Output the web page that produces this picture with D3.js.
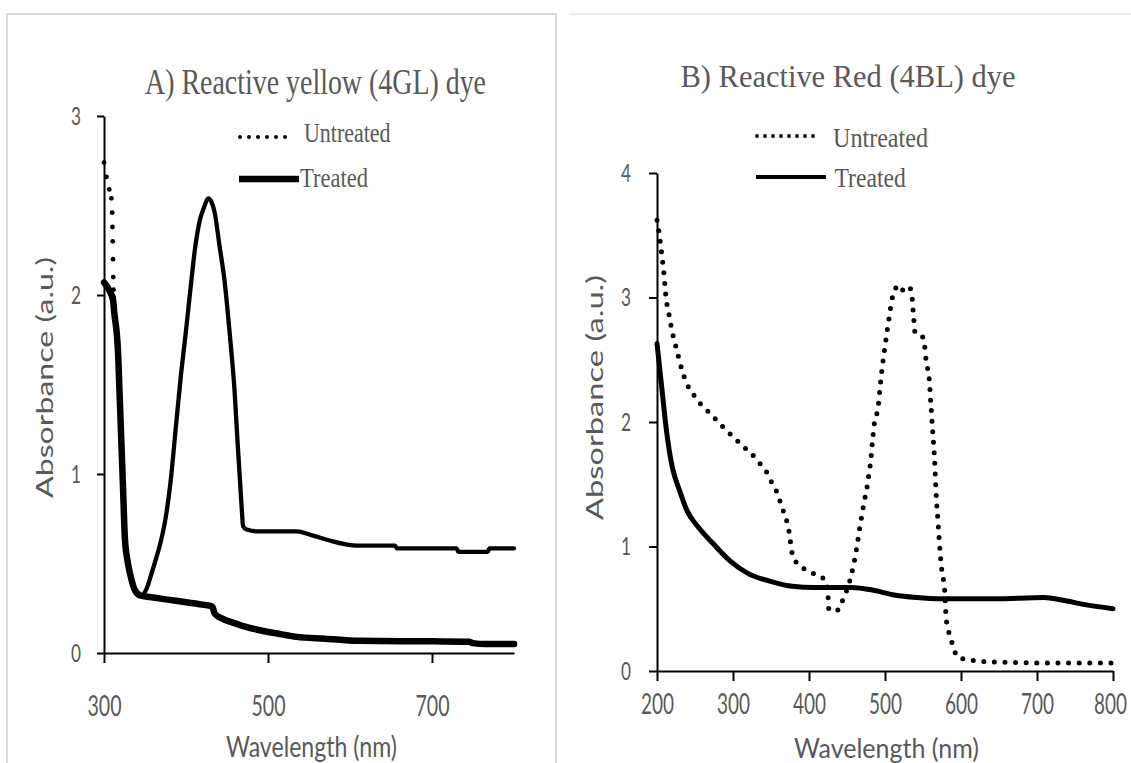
<!DOCTYPE html>
<html><head><meta charset="utf-8">
<script src="https://cdn.jsdelivr.net/npm/d3@7/dist/d3.min.js"></script>
<style>body{margin:0;background:#fff;} svg{display:block;}</style>
</head><body>
<svg id="c" width="1131" height="763"></svg>
<script>
// ---------------- DATA ----------------
const titleA = "A) Reactive yellow (4GL) dye";
const titleB = "B) Reactive Red (4BL) dye";
const seriesNames = ["Untreated", "Treated"];
const xTitle = "Wavelength (nm)";
const yTitle = "Absorbance (a.u.)";

const aXTicks = [300, 500, 700];
const aYTicks = [0, 1, 2, 3];
const bXTicks = [200, 300, 400, 500, 600, 700, 800];
const bYTicks = [0, 1, 2, 3, 4];

// Panel A – wavelength (nm), absorbance
const aUntreated = [[300,2.74],[303,2.66],[306.5,2.59],[309,2.54],[310,2.46],[310.3,2.38],[310.6,2.3],[311,2.2],[311.3,2.1],[311.7,2.03],[312,1.99],[313,1.88],[315.5,1.79],[317,1.69],[319,1.45],[321,1.2],[323,0.95],[325.5,0.64],[328.5,0.52],[331.7,0.445],[337.8,0.35],[345,0.32],[352,0.36],[358,0.445],[363,0.52],[368,0.6],[375,0.75],[381,0.95],[388,1.28],[394,1.56],[399,1.76],[403,1.93],[407,2.1],[411,2.26],[414,2.35],[417,2.42],[422,2.49],[427,2.54],[431,2.52],[435,2.46],[441,2.27],[447,2.08],[451,1.9],[455,1.7],[459,1.48],[463,1.17],[466,0.95],[468.5,0.77],[469.5,0.71],[474,0.69],[487,0.68],[535,0.68],[552,0.66],[574,0.63],[609,0.60],[637,0.60],[655,0.60],[657,0.585],[730,0.585],[732,0.565],[768,0.565],[770,0.585],[800,0.585]];
const aTreated = [[300,2.07],[306,2.03],[311,1.97],[313,1.88],[315.5,1.79],[317,1.69],[319,1.45],[321,1.2],[323,0.95],[325.5,0.64],[328.5,0.52],[331.7,0.445],[337.8,0.35],[345,0.32],[360,0.31],[390,0.29],[420,0.27],[432,0.26],[435,0.22],[445,0.19],[457,0.17],[470,0.15],[487,0.13],[510,0.11],[535,0.09],[570,0.08],[610,0.068],[700,0.065],[745,0.063],[750,0.055],[765,0.05],[800,0.05]];

// Panel B
const bUntreated = [[200,3.62],[202.5,3.53],[205,3.41],[207,3.31],[209,3.2],[212,2.99],[215.3,2.88],[221.6,2.68],[226,2.58],[230,2.48],[239,2.31],[247,2.23],[255,2.16],[263,2.11],[273,2.05],[282,1.99],[292,1.93],[302,1.87],[311,1.82],[321,1.76],[330,1.71],[337.5,1.65],[345,1.59],[352,1.5],[359,1.42],[364,1.32],[369,1.24],[373.5,1.13],[378,0.94],[385,0.86],[397,0.81],[407,0.78],[416.6,0.755],[423.8,0.70],[425.2,0.59],[426.2,0.49],[438,0.49],[444.4,0.57],[455,0.755],[462,0.96],[467,1.16],[473,1.37],[476.5,1.48],[479,1.59],[481.3,1.69],[482.7,1.79],[486,1.99],[491,2.12],[494,2.31],[498,2.52],[500.5,2.63],[503,2.74],[505.5,2.84],[509,2.98],[512,3.04],[517,3.10],[524,3.06],[530,3.09],[535,3.05],[536.5,2.93],[538,2.82],[539.5,2.72],[544,2.71],[550.7,2.67],[554.6,2.47],[558,2.36],[560.3,2.15],[562.7,1.93],[565,1.72],[567.5,1.40],[570,1.18],[572.3,0.97],[574.7,0.81],[578.5,0.65],[580.4,0.43],[583.3,0.33],[588,0.23],[596,0.11],[610,0.09],[647,0.072],[718,0.064],[800,0.064]];
const bTreated = [[200,2.63],[205.7,2.31],[212.9,1.91],[220,1.64],[229.7,1.45],[239.3,1.29],[253.7,1.16],[272.8,1.03],[296.8,0.88],[320.7,0.78],[349.5,0.72],[378,0.68],[407,0.67],[455,0.67],[483.7,0.65],[512.4,0.61],[541,0.59],[574.7,0.58],[646.6,0.58],[709,0.59],[733,0.57],[761.6,0.535],[800,0.50]];

// ---------------- DRAWING ----------------
const svg = d3.select("#c");
const GRAY = "#595959";
const SANS = "Lato, 'Open Sans', sans-serif";
const SERIF = "'Liberation Serif', 'DejaVu Serif', serif";

function txt(parent, x, y, s, o) {
  const t = parent.append("text").attr("x", x).attr("y", y).text(s)
    .attr("font-family", o.ff).attr("font-size", o.fs).attr("fill", o.fill || GRAY)
    .attr("text-anchor", o.anchor || "start");
  if (o.w) t.attr("textLength", o.w).attr("lengthAdjust", "spacingAndGlyphs");
  return t;
}

// frames
svg.append("rect").attr("x", 7).attr("y", 14).attr("width", 549).attr("height", 780)
  .attr("fill", "none").attr("stroke", "#d9d9d9").attr("stroke-width", 2);
svg.append("line").attr("x1", 569).attr("x2", 1131).attr("y1", 14).attr("y2", 14)
  .attr("stroke", "#e6e6e6").attr("stroke-width", 1.5);

function panel(cfg) {
  const g = svg.append("g");
  const x = d3.scaleLinear().domain(cfg.xDomain).range(cfg.xRange);
  const y = d3.scaleLinear().domain(cfg.yDomain).range(cfg.yRange);

  const xa = g.append("g").attr("transform", `translate(0,${cfg.yRange[0]})`)
    .call(d3.axisBottom(x).tickValues(cfg.xTicks).tickSizeInner(10).tickSizeOuter(0)
      .tickPadding(cfg.xPad).tickFormat(d3.format("d")));
  const ya = g.append("g").attr("transform", `translate(${cfg.xRange[0]},0)`)
    .call(d3.axisLeft(y).tickValues(cfg.yTicks).tickSizeInner(cfg.yTick).tickSizeOuter(0)
      .tickPadding(cfg.yPad).tickFormat(d3.format("d")));
  [xa, ya].forEach(a => {
    a.selectAll("path, line").attr("stroke", "#000").attr("stroke-width", 2);
  });
  xa.selectAll("text").attr("font-family", SANS).attr("font-size", 28).attr("fill", GRAY)
    .attr("textLength", cfg.xLabW).attr("lengthAdjust", "spacingAndGlyphs");
  // keep the last label of a panel that touches the page edge inside the page
  if (cfg.lastLabelDx) {
    xa.selectAll(".tick:last-of-type text").attr("dx", cfg.lastLabelDx);
  }
  ya.selectAll("text").attr("font-family", SANS).attr("font-size", 25).attr("fill", GRAY)
    .attr("textLength", 10).attr("lengthAdjust", "spacingAndGlyphs");

  const line = d3.line().x(d => x(d[0])).y(d => y(d[1])).curve(d3.curveMonotoneX);

  // treated
  g.append("path").datum(cfg.treated).attr("d", line).attr("fill", "none")
    .attr("stroke", "#000").attr("stroke-width", cfg.treatedW)
    .attr("stroke-linejoin", "round").attr("stroke-linecap", "round");

  // untreated
  if (cfg.untreatedDense) {
    const cut = cfg.untreatedDense;
    const solidPart = cfg.untreated.filter(d => d[0] >= cut);
    g.append("path").datum(solidPart).attr("d", line).attr("fill", "none")
      .attr("stroke", "#000").attr("stroke-width", 4.3)
      .attr("stroke-linecap", "round").attr("stroke-linejoin", "round");
    g.selectAll("circle.u").data(cfg.untreated.filter(d => d[0] < cut)).enter()
      .append("circle").attr("class", "u")
      .attr("cx", d => x(d[0])).attr("cy", d => y(d[1])).attr("r", 2.4).attr("fill", "#000");
  } else {
    g.append("path").datum(cfg.untreated).attr("d", line).attr("fill", "none")
      .attr("stroke", "#000").attr("stroke-width", 5)
      .attr("stroke-dasharray", "0 10.6").attr("stroke-linecap", "round");
  }

  // title
  txt(svg, cfg.title.x, cfg.title.y, cfg.title.s, { ff: SERIF, fs: cfg.title.fs, anchor: "middle", w: cfg.title.w });

  // legend
  const L = cfg.legend;
  g.append("line").attr("x1", L.ux1).attr("x2", L.ux2).attr("y1", L.uy).attr("y2", L.uy)
    .attr("stroke", "#000").attr("stroke-width", 4).attr("stroke-linecap", "round")
    .attr("stroke-dasharray", `0 ${L.uGap}`);
  txt(g, L.utx, L.uty, seriesNames[0], { ff: SERIF, fs: L.ufs, w: L.utw });
  g.append("line").attr("x1", L.tx1).attr("x2", L.tx2).attr("y1", L.ty).attr("y2", L.ty)
    .attr("stroke", "#000").attr("stroke-width", L.tw);
  txt(g, L.ttx, L.tty, seriesNames[1], { ff: SERIF, fs: L.tfs, w: L.ttw });

  // axis titles
  txt(g, cfg.xt.x, cfg.xt.y, xTitle, { ff: SANS, fs: cfg.xt.fs, anchor: "middle", w: cfg.xt.w });
  const yg = g.append("g").attr("transform", `translate(${cfg.yt.x},${cfg.yt.y}) scale(0.8,1) rotate(-90)`);
  txt(yg, 0, 0, yTitle, { ff: SANS, fs: 28, anchor: "middle", w: cfg.yt.w });
}

panel({
  xDomain: [300, 800], xRange: [104, 514], yDomain: [0, 3], yRange: [653, 116],
  xTicks: aXTicks, yTicks: aYTicks, xPad: 33, yPad: 16, yTick: 7, xLabW: 34,
  treated: aTreated, untreated: aUntreated, untreatedDense: 312, treatedW: 6.5,
  title: { s: titleA, x: 315.5, y: 94, fs: 35, w: 341 },
  legend: { ux1: 240, ux2: 294, uy: 137, uGap: 9, utx: 304, uty: 142, ufs: 27, utw: 86.5,
            tx1: 239, tx2: 299, ty: 179, tw: 6.5, ttx: 300, tty: 187, tfs: 27, ttw: 68 },
  xt: { x: 311.5, y: 757, fs: 28, w: 171 },
  yt: { x: 53, y: 377.5, w: 241 }
});

panel({
  xDomain: [200, 800], xRange: [657, 1113], yDomain: [0, 4], yRange: [671, 173],
  xTicks: bXTicks, yTicks: bYTicks, xPad: 13, yPad: 18, yTick: 8, xLabW: 33, lastLabelDx: -3,
  treated: bTreated, untreated: bUntreated, untreatedDense: null, treatedW: 5,
  title: { s: titleB, x: 848, y: 87, fs: 32, w: 335 },
  legend: { ux1: 757, ux2: 821, uy: 136, uGap: 8, utx: 833, uty: 147, ufs: 27, utw: 95,
            tx1: 756, tx2: 826, ty: 177, tw: 4, ttx: 834.5, tty: 187, tfs: 27, ttw: 71.4 },
  xt: { x: 886.5, y: 758, fs: 27, w: 185 },
  yt: { x: 603, y: 397.5, w: 245 }
});
</script>
</body></html>
